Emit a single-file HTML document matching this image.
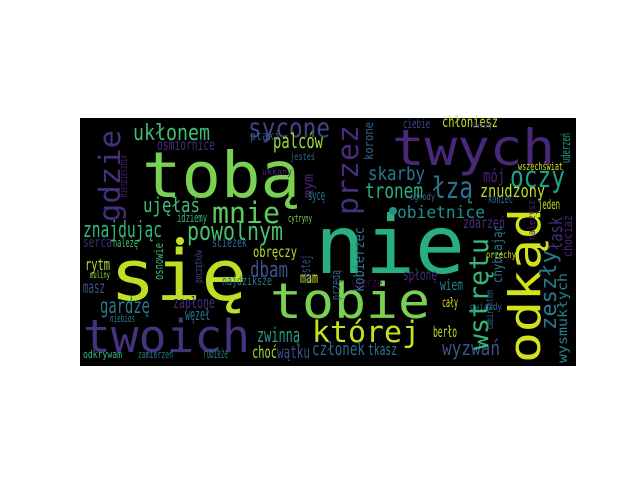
<!DOCTYPE html>
<html><head><meta charset="utf-8">
<style>
html,body{margin:0;padding:0;background:#fff;width:640px;height:480px;overflow:hidden}
svg{display:block}
text{font-family:"DejaVu Sans Mono","Liberation Mono",monospace}
</style></head>
<body>
<svg id="cloud" width="640" height="480" viewBox="0 0 640 480" xmlns="http://www.w3.org/2000/svg">
<rect x="80" y="118" width="496" height="248" fill="#000"/>
<g id="words"></g>
</svg>
<script>
const wordTexts = ["tobą","się","nie","twych","odkąd","tobie","twoich","której","przez","gdzie","sycone","ukłonem","mnie","ujęłaś","znajdując","powolnym","palców","osmiornice","niespiesznie","mym","sycę","idziemy","cytryny","serca","należę","obręczy","dbam","mam","rytm","muliny","masz","najdziksze","osnowie","gardzę","zapłone","węzeł","niebios","zwinną","choć","wątku","członek","tkasz","odkrywam","zamierzeń","rubieże","ścieżek","gęstej","początków","należysz","berło","cały","wiem","spłonę","wierzę","wyzwań","kobierzec","przędą","wstrętu","zeszły","wysmukłych","łask","chociaż","chybiając","labiryntem","oczy","łzą","tronem","skarby","obietnice","znudzony","jeden","koniec","mój","zdarzeń","wszechświat","uderzeń","korone","chłoniesz","ciebie","ogrody","jesteś","ptaki","równiny","gwiazdy","orzechy","ukkany"];
const wordX = [142,110,315,392,540,270,83,312,358,120,248,133,212,143,83,187,273,157,127,313,308,177,288,83,113,253,250,300,85,90,83,222,163,100,173,185,110,257,252,277,312,368,83,138,203,212,310,202,535,433,442,440,403,352,442,364,340,488,556,567,562,572,502,493,510,432,365,368,397,480,538,488,483,463,518,570,373,442,403,410,290,250,470,470,486,262];
const wordY = [197,300,273,165,363,318,352,342,215,222,137,140,223,212,237,240,148,150,197,198,200,222,222,247,247,257,277,283,270,278,293,285,280,313,308,320,322,342,358,358,355,355,358,358,358,247,282,283,240,337,307,290,280,287,355,292,300,350,330,363,250,257,283,330,187,198,198,180,218,197,209,203,182,228,170,163,160,127,128,200,160,140,128,310,258,175];
const wordSize = [63,70,80,50,44,49,45,29,29,29,27,22,29,20,22,26,20,15,11,14,14,12,11,14,12,15,22,15,16,10,17,12,12,21,16,16,11,20,17,17,18,16,11,11,13,13,13,11,10,15,13,15,15,12,20,14,12,27,22,13,18,12,13,10,29,29,21,19,17,18,13,12,18,15,11,12,12,15,12,10,10,12,10,10,10,10];
const wordLen = [158,137,150,163,155,160,167,108,90,92,82,77,68,57,79,96,50,58,42,24,17,30,24,29,25,44,38,18,25,20,22,50,37,50,42,25,25,43,25,33,53,29,39,35,25,35,27,33,40,24,16,23,34,30,58,65,30,112,80,90,33,42,58,40,55,41,58,57,88,65,22,25,22,42,45,30,38,56,27,25,25,30,22,32,30,30];
const wordColor = ["#7ad151","#bddf26","#29af7f","#482878","#d2e21b","#7ad151","#46337e","#c8e020","#472d7b","#46307e","#414487","#3fbc73","#5ec962","#3fbc73","#35b779","#4ac16d","#a0da39","#472d7b","#482475","#482475","#2a788e","#35b779","#84d44b","#482475","#3fbc73","#b5de2b","#3b528b","#d8e219","#b5de2b","#90d743","#3b528b","#2a788e","#3fbc73","#2a788e","#472d7b","#2a788e","#26828e","#2a9d8a","#a5db36","#3b528b","#31688e","#2a788e","#35b779","#2a788e","#2a788e","#31688e","#3b528b","#3e4989","#482475","#c2df23","#d8e219","#26828e","#472d7b","#440154","#3b528b","#2a788e","#31688e","#35b779","#2a788e","#26828e","#472d7b","#482878","#2a788e","#31688e","#1fa088","#2c728e","#29af7f","#2a788e","#21918c","#c2df23","#c2df23","#31688e","#482475","#472d7b","#d8e219","#2a9d8a","#31688e","#c8e020","#3e4989","#31688e","#31688e","#3b528b","#3e4989","#31688e","#c8e020","#482475"];
const wordVertical = [0,0,0,0,1,0,0,0,1,1,0,0,0,0,0,0,0,0,1,1,0,0,0,0,0,0,0,0,0,0,0,0,1,0,0,0,0,0,0,0,0,0,0,0,0,0,1,1,1,0,0,0,0,0,0,1,1,1,1,1,1,1,1,1,0,0,0,0,0,0,0,0,0,0,0,1,1,0,0,0,0,0,0,0,0,0];

const NS = "http://www.w3.org/2000/svg";
const g = document.getElementById("words");
for (let i = 0; i < wordTexts.length; i++) {
  const t = document.createElementNS(NS, "text");
  t.setAttribute("x", wordX[i]);
  t.setAttribute("y", wordY[i]);
  t.setAttribute("font-size", wordSize[i]);
  t.setAttribute("fill", wordColor[i]);
  t.setAttribute("textLength", wordLen[i]);
  t.setAttribute("lengthAdjust", "spacingAndGlyphs");
  if (wordVertical[i]) t.setAttribute("transform", "rotate(-90 " + wordX[i] + " " + wordY[i] + ")");
  t.textContent = wordTexts[i];
  
  
  g.appendChild(t);
}
const dotX = [180, 393];
const dotY = [241, 211];
const dotColor = ["#c8e020", "#21918c"];
for (let i = 0; i < dotX.length; i++) {
  const c = document.createElementNS(NS, "circle");
  c.setAttribute("cx", dotX[i]);
  c.setAttribute("cy", dotY[i]);
  c.setAttribute("r", 4);
  c.setAttribute("fill", dotColor[i]);
  
  
  g.appendChild(c);
}
</script>
</body></html>
